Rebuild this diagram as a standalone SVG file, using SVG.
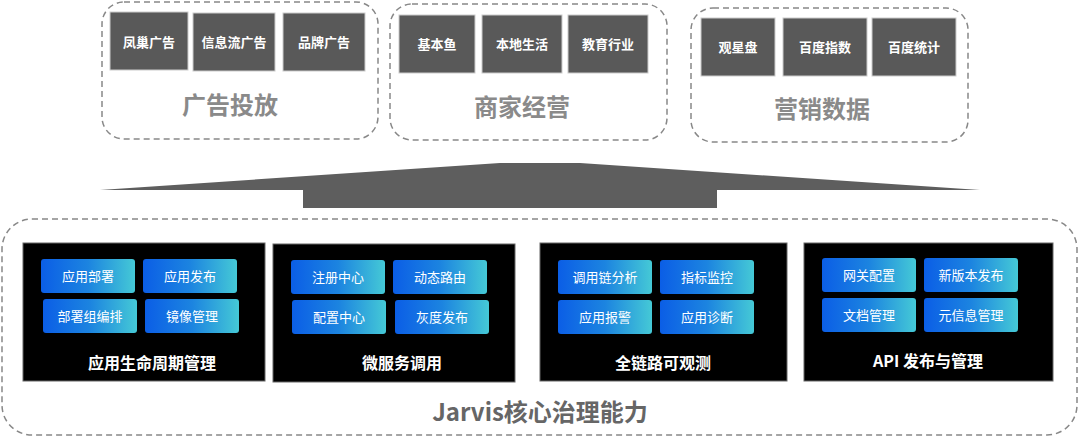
<svg xmlns="http://www.w3.org/2000/svg" width="1080" height="443" viewBox="0 0 1080 443">
<defs>
<linearGradient id="g" x1="0" y1="0" x2="1" y2="0"><stop offset="0" stop-color="#0b5ee6"/><stop offset="0.5" stop-color="#1c84e0"/><stop offset="1" stop-color="#45c9d6"/></linearGradient>
<style>
text{font-family:"Noto Sans CJK SC","Noto Sans",sans-serif;text-anchor:middle;font-weight:bold}
.dash{fill:none;stroke:#888;stroke-width:1.5;stroke-dasharray:6 4}
.gb{fill:#595959;stroke:#ccc;stroke-width:1}
.gt{fill:#fff;font-size:13px}
.big{fill:#8a8a8a;font-size:24px}
.panel{fill:#000;stroke:#666;stroke-width:1}
.sb{fill:url(#g)}
.st{fill:#fff;font-size:13px;font-weight:normal}
.pt{fill:#fff;font-size:16px}
</style>
</defs>
<g id="ad">
<rect class="dash" x="102" y="2" width="276" height="137" rx="22"/>
<rect class="gb" x="110" y="12" width="78" height="58"/><text class="gt" x="149" y="47">凤巢广告</text>
<rect class="gb" x="193" y="13" width="82" height="58"/><text class="gt" x="234" y="47">信息流广告</text>
<rect class="gb" x="283" y="13" width="82" height="58"/><text class="gt" x="324" y="47">品牌广告</text>
<text class="big" x="230" y="114">广告投放</text>
</g>
<g id="biz">
<rect class="dash" x="390" y="4" width="277" height="136" rx="22"/>
<rect class="gb" x="399" y="15" width="76" height="58"/><text class="gt" x="437" y="49">基本鱼</text>
<rect class="gb" x="482" y="15" width="80" height="58"/><text class="gt" x="522" y="49">本地生活</text>
<rect class="gb" x="568" y="15" width="80" height="58"/><text class="gt" x="608" y="49">教育行业</text>
<text class="big" x="522" y="116">商家经营</text>
</g>
<g id="mkt">
<rect class="dash" x="691" y="8" width="277" height="134" rx="22"/>
<rect class="gb" x="701" y="18" width="74" height="58"/><text class="gt" x="738" y="52">观星盘</text>
<rect class="gb" x="783" y="18" width="84" height="58"/><text class="gt" x="825" y="52">百度指数</text>
<rect class="gb" x="872" y="18" width="84" height="58"/><text class="gt" x="914" y="52">百度统计</text>
<text class="big" x="822" y="118">营销数据</text>
</g>
<g id="connectors">
<polygon points="100,190 500,163 580,163 980,190 717,190 717,208 303,208 303,190" fill="#5e5e5e"/>
</g>
<g id="core">
<rect class="dash" x="2" y="219" width="1075" height="216" rx="30"/>
<text x="540" y="421" font-size="24" fill="#666">Jarvis核心治理能力</text>
</g>
<g id="p1">
<rect class="panel" x="23" y="243" width="242" height="138"/>
<rect class="sb" x="41" y="259" width="94" height="34" rx="3"/><text class="st" x="88" y="281">应用部署</text>
<rect class="sb" x="143" y="259" width="94" height="34" rx="3"/><text class="st" x="190" y="281">应用发布</text>
<rect class="sb" x="43" y="299" width="94" height="34" rx="3"/><text class="st" x="90" y="321">部署组编排</text>
<rect class="sb" x="145" y="299" width="94" height="34" rx="3"/><text class="st" x="192" y="321">镜像管理</text>
<text class="pt" x="152" y="369">应用生命周期管理</text>
</g>
<g id="p2">
<rect class="panel" x="273" y="244" width="242" height="138"/>
<rect class="sb" x="291" y="260" width="94" height="34" rx="3"/><text class="st" x="338" y="282">注册中心</text>
<rect class="sb" x="393" y="260" width="94" height="34" rx="3"/><text class="st" x="440" y="282">动态路由</text>
<rect class="sb" x="292" y="300" width="94" height="34" rx="3"/><text class="st" x="339" y="322">配置中心</text>
<rect class="sb" x="395" y="300" width="94" height="34" rx="3"/><text class="st" x="442" y="322">灰度发布</text>
<text class="pt" x="402" y="369">微服务调用</text>
</g>
<g id="p3">
<rect class="panel" x="540" y="243" width="247" height="138"/>
<rect class="sb" x="558" y="260" width="94" height="34" rx="3"/><text class="st" x="605" y="282">调用链分析</text>
<rect class="sb" x="660" y="260" width="94" height="34" rx="3"/><text class="st" x="707" y="282">指标监控</text>
<rect class="sb" x="558" y="300" width="94" height="34" rx="3"/><text class="st" x="605" y="322">应用报警</text>
<rect class="sb" x="660" y="300" width="94" height="34" rx="3"/><text class="st" x="707" y="322">应用诊断</text>
<text class="pt" x="663" y="369">全链路可观测</text>
</g>
<g id="p4">
<rect class="panel" x="804" y="243" width="249" height="138"/>
<rect class="sb" x="822" y="258" width="94" height="34" rx="3"/><text class="st" x="869" y="280">网关配置</text>
<rect class="sb" x="924" y="258" width="94" height="34" rx="3"/><text class="st" x="971" y="280">新版本发布</text>
<rect class="sb" x="822" y="298" width="94" height="34" rx="3"/><text class="st" x="869" y="320">文档管理</text>
<rect class="sb" x="924" y="298" width="94" height="34" rx="3"/><text class="st" x="971" y="320">元信息管理</text>
<text class="pt" x="928" y="367">API 发布与管理</text>
</g>
</svg>
